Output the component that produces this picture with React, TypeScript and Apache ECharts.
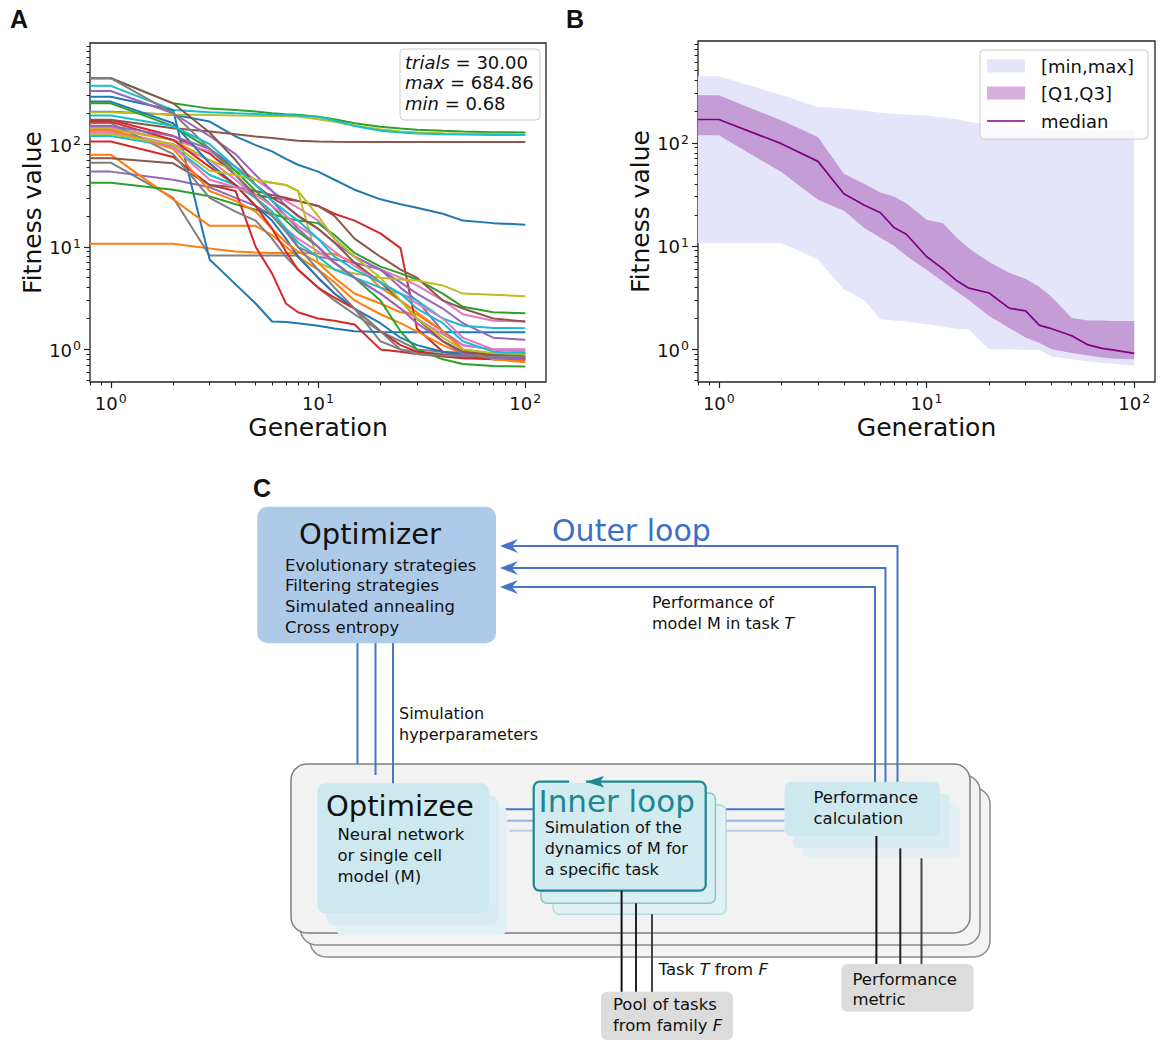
import React, { useEffect, useRef } from "react";
import * as echarts from "echarts";

// ---------------- DATA ----------------
// Panel A: best fitness per generation for 30 trials (read at these generations)
const GENERATIONS = [1, 2, 3, 4, 5, 6, 7, 8, 10, 12, 15, 20, 25, 30, 40, 50, 70, 100];
const TRIAL_VALUES: number[][] = [
  [207, 194, 166, 119, 98, 85, 72, 63, 54, 45, 36, 29, 26, 24, 21, 18, 17, 16.4],
  [10.7, 10.7, 9.6, 9.0, 8.8, 8.7, 8.7, 8.7, 8.6, 8.5, 7.0, 4.0, 3.0, 2.3, 1.5, 1.0, 0.9, 0.85],
  [440, 250, 222, 215, 208, 200, 196, 193, 185, 175, 160, 148, 142, 138, 135, 133, 131, 130],
  [172, 120, 81, 50, 32, 30, 29, 28, 25, 21, 18, 13.5, 9.7, 1.6, 0.95, 0.88, 0.82, 0.8],
  [54, 45, 38, 30, 25, 20, 15, 10, 8, 7.5, 7, 6, 4, 3, 1.5, 1.1, 1.0, 1.0],
  [173, 143, 133, 125, 119, 115, 111, 108, 106, 105.5, 105, 105, 105, 105, 105, 105, 105, 105],
  [145, 110, 85, 60, 45, 35, 28, 24, 18, 12, 8, 6, 5, 4.2, 3, 2.2, 1.9, 1.87],
  [66, 30, 8.2, 8.2, 8.2, 8.2, 8.2, 8.2, 5, 3.5, 2.5, 1.2, 1.0, 0.95, 0.9, 0.88, 0.86, 0.85],
  [205, 195, 192, 190, 189, 188, 187, 186, 175, 165, 152, 140, 133, 130, 128, 127, 126, 125],
  [370, 215, 205, 200, 197, 194, 192, 190, 185, 170, 150, 135, 130, 127, 125, 124, 123, 123],
  [290, 214, 7.5, 4.3, 2.8, 1.87, 1.85, 1.8, 1.7, 1.6, 1.5, 1.48, 1.47, 1.47, 1.47, 1.47, 1.47, 1.47],
  [79, 29, 16, 16, 16, 13, 10, 8, 6, 4.5, 3, 2.2, 1.8, 1.5, 1.1, 0.9, 0.8, 0.78],
  [42, 36, 31, 26, 23, 21, 19, 18, 17, 13, 8.7, 6.4, 5.5, 4.8, 3.5, 2.6, 2.3, 2.25],
  [106, 75, 40, 35, 10, 5.5, 2.8, 2.3, 2.0, 1.9, 1.75, 1.0, 0.95, 0.9, 0.85, 0.82, 0.8, 0.8],
  [330, 200, 120, 80, 50, 35, 25, 20, 15, 11, 8, 6, 4.5, 3.5, 2.5, 1.8, 1.3, 1.24],
  [73, 65, 40, 38, 35, 32, 30, 28, 25, 20, 12, 8, 6, 5, 3, 2.5, 2.0, 1.87],
  [135, 100, 70, 45, 30, 20, 15, 12, 9, 7, 5, 3.5, 2.5, 2.0, 1.4, 1.1, 1.0, 1.0],
  [160, 80, 30, 22, 18, 12, 8, 6, 4, 3, 2.2, 1.5, 1.2, 1.0, 0.95, 0.92, 0.9, 0.9],
  [140, 110, 70, 55, 45, 42, 40, 35, 7, 6, 5.5, 5, 4.8, 4.7, 4.2, 3.5, 3.4, 3.3],
  [120, 95, 50, 40, 30, 22, 15, 11, 8, 6, 5, 4, 3.5, 3.0, 2.0, 1.7, 1.62, 1.61],
  [260, 160, 65, 40, 25, 18, 12, 8, 5, 3.5, 2.5, 1.8, 1.3, 1.1, 0.95, 0.9, 0.87, 0.85],
  [138, 90, 35, 28, 22, 15, 11, 9, 7, 5, 3.5, 2.8, 2.3, 2.2, 1.5, 1.0, 0.8, 0.75],
  [250, 150, 90, 55, 35, 25, 18, 14, 10, 7, 5, 3, 1.5, 1.0, 0.8, 0.72, 0.69, 0.68],
  [165, 110, 60, 40, 25, 15, 9, 6, 4, 3.2, 2.5, 1.5, 1.1, 0.95, 0.88, 0.85, 0.83, 0.82],
  [150, 120, 90, 60, 40, 28, 20, 15, 10, 7, 5, 3.5, 2.5, 1.8, 1.2, 0.9, 0.82, 0.8],
  [440, 250, 130, 70, 40, 30, 25, 20, 15, 11, 7, 4.5, 3, 2.0, 1.2, 0.95, 0.88, 0.85],
  [130, 95, 45, 38, 32, 25, 20, 16, 12, 9, 6.5, 4.5, 3.5, 2.8, 2.0, 1.3, 1.0, 0.95],
  [440, 200, 90, 50, 30, 20, 14, 10, 6, 4, 2.5, 1.5, 1.0, 0.9, 0.87, 0.86, 0.85, 0.85],
  [125, 100, 55, 50, 45, 42, 40, 35, 20, 12, 8, 5, 3, 2, 1.3, 1.0, 0.92, 0.9],
  [190, 150, 100, 60, 40, 28, 22, 18, 12, 8, 6, 4.5, 3.5, 2.5, 1.8, 1.2, 0.95, 0.92],
];
const TAB10 = ["#1f77b4", "#ff7f0e", "#2ca02c", "#d62728", "#9467bd", "#8c564b", "#e377c2", "#7f7f7f", "#bcbd22", "#17becf"];

// Panel B: summary statistics per generation
const STAT_GENERATIONS = [1, 2, 3, 4, 5, 6, 7, 8, 10, 12, 14, 16, 20, 25, 30, 35, 40, 50, 60, 70, 80, 100];
const STAT_MAX = [440, 290, 222, 215, 205, 195, 190, 188, 183, 176, 170, 160, 150, 144, 139, 137, 135, 134, 133, 133, 132, 132];
const STAT_MIN = [10.7, 10.7, 7.4, 3.8, 3.0, 1.95, 1.9, 1.85, 1.74, 1.65, 1.58, 1.55, 1.0, 1.0, 0.98, 0.98, 0.85, 0.8, 0.76, 0.74, 0.72, 0.69];
const STAT_Q3 = [288, 165, 114, 50, 40, 33, 30, 26, 18, 16.6, 12, 9.5, 7, 5.5, 4.8, 4.0, 3.2, 2.0, 1.9, 1.9, 1.88, 1.88];
const STAT_Q1 = [118, 52, 28, 22, 15, 12, 10, 8, 5.9, 4.5, 3.6, 3.0, 2.1, 1.6, 1.3, 1.15, 1.0, 0.92, 0.87, 0.83, 0.81, 0.8];
const STAT_MEDIAN = [168, 98, 66, 32, 25, 21, 15, 13, 7.9, 6, 4.6, 3.9, 3.5, 2.5, 2.35, 1.7, 1.58, 1.35, 1.1, 1.02, 0.98, 0.91];

// Axes
const X_LIMITS = [0.794, 125.9];
const Y_LIMITS = [0.481, 968];
const MAJOR_TICKS = [1, 10, 100];

// Texts
const STATS_BOX = [["trials", "30.00"], ["max", "684.86"], ["min", "0.68"]];
const LEGEND_LABELS = ["[min,max]", "[Q1,Q3]", "median"];
const OPTIMIZER_METHODS = ["Evolutionary strategies", "Filtering strategies", "Simulated annealing", "Cross entropy"];
const OPTIMIZEE_LINES = ["Neural network", "or single cell", "model (M)"];
const INNER_LINES = ["Simulation of the", "dynamics of M for", "a specific task"];
const HYPER_LINES = ["Simulation", "hyperparameters"];
const PERF_FEEDBACK = ["Performance of", "model M in task {i|T}"];
const PERF_CALC = ["Performance", "calculation"];
const POOL_LINES = ["Pool of tasks", "from family {i|F}"];
const METRIC_LINES = ["Performance", "metric"];

// ---------------- HELPERS ----------------
const FONT = "'DejaVu Sans', sans-serif";
const PANEL_FONT = "'Liberation Sans', Arial, sans-serif";
const AX = "#222";
const INK = "#111";
const BLUE = "#4675c8";
const TEAL = "#1c8790";
const lg = (v: number) => Math.log10(v);

function minorLogs(lo: number, hi: number) {
  const out: number[] = [];
  for (let n = -2; n <= 3; n++) {
    for (let k = 2; k <= 9; k++) {
      const v = k * Math.pow(10, n);
      if (v > lo && v < hi) out.push(lg(v));
    }
  }
  return out;
}

const SUP_RICH = {
  b: { fontSize: 18, fontFamily: FONT, color: INK, verticalAlign: "bottom", lineHeight: 20 },
  s: { fontSize: 12.5, fontFamily: FONT, color: INK, verticalAlign: "top", lineHeight: 11, padding: [0, 0, 0, 1] },
};
const supFmt = (v: number) => `{b|10}{s|${Math.round(v)}}`;

function xAxes(grid: number) {
  const min = lg(X_LIMITS[0]);
  const max = lg(X_LIMITS[1]);
  return [
    {
      type: "value", gridIndex: grid, min, max, position: "bottom",
      axisLine: { show: false, onZero: false }, splitLine: { show: false },
      axisTick: { show: true, length: 6, lineStyle: { color: AX, width: 1.2 }, customValues: MAJOR_TICKS.map(lg) },
      axisLabel: { show: true, margin: 10, customValues: MAJOR_TICKS.map(lg), formatter: supFmt, rich: SUP_RICH },
      name: "Generation", nameLocation: "middle", nameGap: 33,
      nameTextStyle: { fontSize: 25, color: INK, fontFamily: FONT },
    },
    {
      type: "value", gridIndex: grid, min, max, position: "bottom",
      axisLine: { show: false, onZero: false }, splitLine: { show: false }, axisLabel: { show: false },
      axisTick: { show: true, length: 3.5, lineStyle: { color: AX, width: 1 }, customValues: minorLogs(X_LIMITS[0], X_LIMITS[1]) },
    },
  ];
}

function yAxes(grid: number) {
  const min = lg(Y_LIMITS[0]);
  const max = lg(Y_LIMITS[1]);
  return [
    {
      type: "value", gridIndex: grid, min, max, position: "left",
      axisLine: { show: false, onZero: false }, splitLine: { show: false },
      axisTick: { show: true, length: 6, lineStyle: { color: AX, width: 1.2 }, customValues: MAJOR_TICKS.map(lg) },
      axisLabel: { show: true, margin: 9, customValues: MAJOR_TICKS.map(lg), formatter: supFmt, rich: SUP_RICH },
      name: "Fitness value", nameLocation: "middle", nameGap: 44,
      nameTextStyle: { fontSize: 25, color: INK, fontFamily: FONT },
    },
    {
      type: "value", gridIndex: grid, min, max, position: "left",
      axisLine: { show: false, onZero: false }, splitLine: { show: false }, axisLabel: { show: false },
      axisTick: { show: true, length: 3.5, lineStyle: { color: AX, width: 1 }, customValues: minorLogs(Y_LIMITS[0], Y_LIMITS[1]) },
    },
  ];
}

function pts(gens: number[], vals: number[]) {
  // matplotlib draws the generation-1 value flat back to the left edge of the log axis
  return [[lg(X_LIMITS[0]), lg(vals[0])], ...gens.map((g, i) => [lg(g), lg(vals[i])])];
}

function bandSeries(name: string, lo: number[], hi: number[], color: string, z: number) {
  const items = [
    [lg(X_LIMITS[0]), lg(lo[0]), lg(hi[0])],
    ...STAT_GENERATIONS.map((g, i) => [lg(g), lg(lo[i]), lg(hi[i])]),
  ];
  return {
    type: "custom", name, xAxisIndex: 2, yAxisIndex: 2, z, silent: true, clip: true,
    data: items, encode: { x: 0, y: [1, 2] },
    renderItem: (params: any, api: any) => {
      if (params.dataIndex !== 0) return null;
      const upper = items.map((d) => api.coord([d[0], d[2]]));
      const lower = items.slice().reverse().map((d) => api.coord([d[0], d[1]]));
      return { type: "polygon", shape: { points: [...upper, ...lower] }, style: { fill: color, stroke: "none" } };
    },
  };
}

// graphic helpers
function rect(x: number, y: number, w: number, h: number, r: number, fill: string, stroke?: string, lw = 0, z = 10) {
  return { type: "rect", z, shape: { x, y, width: w, height: h, r }, style: { fill, stroke: stroke || "none", lineWidth: lw } };
}
function seg(x1: number, y1: number, x2: number, y2: number, color: string, w = 2, z = 10) {
  return { type: "line", z, shape: { x1, y1, x2, y2 }, style: { stroke: color, lineWidth: w } };
}
function poly(points: number[][], color: string, w = 2, z = 10) {
  return { type: "polyline", z, shape: { points }, style: { stroke: color, lineWidth: w, fill: "none" } };
}
function arrow(points: number[][], color: string, z = 11) {
  return { type: "polygon", z, shape: { points }, style: { fill: color, stroke: "none" } };
}
function txt(x: number, y: number, text: string, size: number, opts: any = {}) {
  const fill = opts.fill || INK;
  const family = opts.family || FONT;
  const weight = opts.weight || "normal";
  const align = opts.align || "left";
  return {
    type: "text", z: opts.z || 20, x, y,
    style: {
      text, fontSize: size, fontFamily: family, fontWeight: weight, fill,
      textAlign: align, align, textVerticalAlign: "middle", verticalAlign: "middle",
      rich: {
        i: { fontStyle: "italic", fontSize: size, fontFamily: family, fill, color: fill },
      },
    },
  };
}

function buildGraphic() {
  const g: any[] = [];
  // panel letters
  g.push(txt(10, 19, "A", 25, { weight: "bold", family: PANEL_FONT }));
  g.push(txt(566, 19, "B", 25, { weight: "bold", family: PANEL_FONT }));
  g.push(txt(253, 488, "C", 25, { weight: "bold", family: PANEL_FONT }));

  // Panel A stats box
  g.push(rect(400, 49, 140, 71, 4, "rgba(255,255,255,0.85)", "#cccccc", 1, 50));
  STATS_BOX.forEach((row, i) => {
    g.push(txt(405, 62 + i * 20.7, `{i|${row[0]}} = ${row[1]}`, 18, { z: 51 }));
  });

  // Panel B legend
  g.push(rect(980, 50, 168, 89, 4, "rgba(255,255,255,0.8)", "#cccccc", 1, 50));
  g.push(rect(987, 59.5, 38, 13, 0, "#e4e4fa", undefined, 0, 51));
  g.push(rect(987, 86.5, 38, 13, 0, "#d6aedb", undefined, 0, 51));
  g.push(seg(987, 121, 1025, 121, "#800080", 1.6, 51));
  LEGEND_LABELS.forEach((l, i) => g.push(txt(1041, 66 + i * 27.5, l, 18, { z: 51 })));

  // ---------- Panel C diagram ----------
  // stacked outer frames (back to front)
  g.push(rect(310, 788, 680, 169, 16, "#f3f3f3", "#8c8c8c", 1.5));
  g.push(rect(300.5, 775, 679.5, 170, 16, "#f3f3f3", "#8c8c8c", 1.5));
  g.push(rect(291, 764, 679, 169, 16, "#f2f2f2", "#7f7f7f", 1.5));

  // hyperparameter lines from optimizer down to the frames
  g.push(seg(357.5, 643, 357.5, 764, BLUE));
  g.push(seg(375.5, 643, 375.5, 775, BLUE));
  g.push(seg(393, 643, 393, 788, BLUE));

  // outer loop feedback lines with arrows
  g.push(poly([[512, 546], [897.5, 546], [897.5, 782]], BLUE));
  g.push(poly([[512, 568], [885.5, 568], [885.5, 782]], BLUE));
  g.push(poly([[512, 587], [875, 587], [875, 782]], BLUE));
  [546, 568, 587].forEach((y) => g.push(arrow([[500, y], [518, y - 7], [512, y], [518, y + 7]], BLUE)));

  // connectors optimizee <-> inner loop <-> performance
  g.push(seg(489, 809.3, 533.7, 809.3, BLUE));
  g.push(seg(499, 820.7, 533.7, 820.7, "#97b2e0"));
  g.push(seg(509.6, 830.7, 533.7, 830.7, "#bccdeb"));
  g.push(seg(705.8, 809.3, 784.6, 809.3, BLUE));
  g.push(seg(716, 820.7, 784.6, 820.7, "#97b2e0"));
  g.push(seg(726, 830.7, 784.6, 830.7, "#bccdeb"));

  // optimizee (with shadows)
  g.push(rect(335.3, 805.3, 172, 130, 8, "#e4f1f4"));
  g.push(rect(326.3, 795.3, 172, 130, 8, "#d9ecf1"));
  g.push(rect(317.3, 783.3, 171.7, 130, 8, "#cde8ee"));

  // inner loop (with shadows)
  g.push(rect(553, 805, 173, 109.3, 6, "#e2f1f4", "#b5dbe1", 1.5));
  g.push(rect(541, 793, 174.4, 110.3, 6, "#d9eef2", "#8fc4cc", 1.5));
  g.push(rect(533.7, 781.7, 172, 109, 6, "#d1ebf0", TEAL, 2.2));
  g.push(rect(569, 779.6, 17, 3.4, 0, "#f2f2f2", undefined, 0, 11));
  g.push(arrow([[586, 781.7], [604, 776], [600, 781.7], [604, 787.4]], TEAL, 12));

  // performance calculation (with shadows)
  g.push(rect(803, 804, 157, 54.3, 6, "#e4f1f4"));
  g.push(rect(793, 793, 156.5, 55.3, 6, "#d9ecf1"));
  g.push(rect(784.6, 781.7, 155.3, 54.3, 6, "#cde8ee"));

  // task / metric lines
  g.push(seg(621.6, 890.7, 621.6, 992, "#111"));
  g.push(seg(636, 903.3, 636, 992, "#222"));
  g.push(seg(652, 914.3, 652, 992, "#444"));
  g.push(seg(876.4, 836, 876.4, 964, "#111"));
  g.push(seg(900.3, 848.3, 900.3, 964, "#222"));
  g.push(seg(921.5, 858.3, 921.5, 964, "#444"));

  // pool and metric boxes
  g.push(rect(601, 991.7, 132, 48.3, 6, "#dcdcdc"));
  g.push(rect(841.3, 964, 132.3, 47.7, 6, "#dcdcdc"));

  // optimizer box
  g.push(rect(257.3, 506.7, 238.7, 136.6, 10, "#aecae9"));

  // texts
  g.push(txt(370, 534, "Optimizer", 29, { align: "center" }));
  OPTIMIZER_METHODS.forEach((t, i) => g.push(txt(285, 565 + i * 20.7, t, 16.5)));
  g.push(txt(552, 530.5, "Outer loop", 30, { fill: "#3c6fc6" }));
  PERF_FEEDBACK.forEach((t, i) => g.push(txt(652, 602.5 + i * 21, t, 16)));
  HYPER_LINES.forEach((t, i) => g.push(txt(399, 713.5 + i * 21, t, 16)));
  g.push(txt(326, 805.5, "Optimizee", 29));
  OPTIMIZEE_LINES.forEach((t, i) => g.push(txt(337.5, 834.5 + i * 20.8, t, 16.5)));
  g.push(txt(538.5, 801, "Inner loop", 31, { fill: TEAL }));
  INNER_LINES.forEach((t, i) => g.push(txt(544.7, 827.5 + i * 20.8, t, 16)));
  PERF_CALC.forEach((t, i) => g.push(txt(813.5, 797.5 + i * 21, t, 16.5)));
  g.push(txt(658.6, 969.5, "Task {i|T} from {i|F}", 16.5));
  POOL_LINES.forEach((t, i) => g.push(txt(613, 1004.5 + i * 20.5, t, 16.5)));
  METRIC_LINES.forEach((t, i) => g.push(txt(852.4, 979.5 + i * 20, t, 16.5)));
  return g;
}

function buildOption() {
  const seriesA = TRIAL_VALUES.map((vals, i) => ({
    type: "line", name: `trial ${i + 1}`, xAxisIndex: 0, yAxisIndex: 0,
    data: pts(GENERATIONS, vals), showSymbol: false, symbol: "none", silent: true,
    lineStyle: { width: 2, color: TAB10[i % 10] }, itemStyle: { color: TAB10[i % 10] }, z: 2,
  }));
  const seriesB = [
    bandSeries("[min,max]", STAT_MIN, STAT_MAX, "#e4e4fa", 2),
    bandSeries("[Q1,Q3]", STAT_Q1, STAT_Q3, "#c59dd6", 3),
    {
      type: "line", name: "median", xAxisIndex: 2, yAxisIndex: 2, data: pts(STAT_GENERATIONS, STAT_MEDIAN),
      showSymbol: false, symbol: "none", silent: true, lineStyle: { color: "#800080", width: 1.7 }, z: 4,
    },
  ];
  const gridBase = { show: true, borderColor: AX, borderWidth: 1.3, backgroundColor: "transparent", containLabel: false, outerBoundsMode: "none" };
  return {
    animation: false,
    backgroundColor: "#ffffff",
    textStyle: { fontFamily: FONT },
    grid: [
      { ...gridBase, left: 90, top: 43, width: 456, height: 339 },
      { ...gridBase, left: 698, top: 41, width: 457, height: 341 },
    ],
    xAxis: [...xAxes(0), ...xAxes(1)],
    yAxis: [...yAxes(0), ...yAxes(1)],
    series: [...seriesA, ...seriesB],
    graphic: { elements: buildGraphic() },
  };
}

export default function App() {
  const ref = useRef<HTMLDivElement>(null);
  useEffect(() => {
    if (!ref.current) return;
    const chart = echarts.init(ref.current, undefined, { renderer: "svg" });
    chart.setOption(buildOption() as any);
    return () => chart.dispose();
  }, []);
  return (
    <div
      ref={ref}
      style={{ position: "absolute", left: 0, top: 0, width: 1170, height: 1051, background: "#fff" }}
    />
  );
}
